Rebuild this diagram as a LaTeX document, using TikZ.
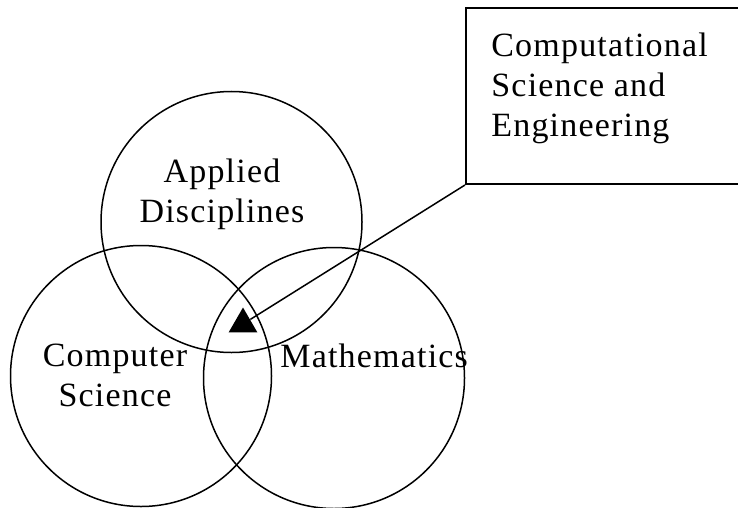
\documentclass[tikz,border=0pt]{standalone}
\usepackage{fontspec}
\setmainfont[LetterSpace=3.5]{Liberation Serif}
\usetikzlibrary{positioning,shapes.geometric}
\tikzset{
  venn/.style    = {circle, draw, line width=0.75pt, minimum size=130.5pt, inner sep=0pt},
  lbl/.style     = {font=\fontsize{17}{20}\selectfont, inner sep=0pt, align=center},
  tip/.style     = {regular polygon, regular polygon sides=3, fill=black,
                    minimum size=16.5pt, inner sep=0pt},
  callout/.style = {draw, line width=1pt, minimum width=150pt, minimum height=88pt,
                    inner sep=0pt},
  wire/.style    = {line width=0.75pt},
}

\begin{document}
\begin{tikzpicture}[x=0.5pt,y=-0.5pt]
  \useasboundingbox (0,0) rectangle (738,508);
  \node[venn] (applied) at (231.5,222) {};
  \node[venn] (compsci) at (141,376) {};
  \node[venn] (maths) at (334,378) {};
  \node[lbl, anchor=north] (appliedlbl) at (222,159) {Applied\\Disciplines};
  \node[lbl, anchor=north] (compscilbl) at (115,344) {Computer\\Science};
  \node[lbl, anchor=north west] (mathslbl) at (280,344) {Mathematics};
  \node[tip] (cse) at (243,324) {};
  \node[callout, anchor=north west] (box) at (465,7) {};
  \node[lbl, align=left, anchor=north west] (boxlbl) at (491,33)
    {Computational\\Science and\\Engineering};
  \draw[wire] (cse) -- (box.south west);
\end{tikzpicture}
\end{document}
